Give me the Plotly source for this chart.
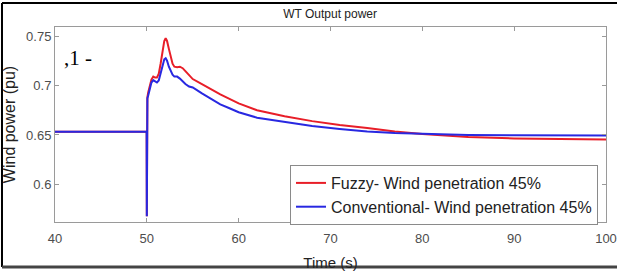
import plotly.graph_objects as go

# Time axis (s)
time_s = [40, 49.98, 50.0, 50.03, 50.06, 50.15, 50.3, 50.5, 50.7, 50.9, 51.1, 51.3,
          51.5, 51.7, 51.9, 52.05, 52.2, 52.4, 52.6, 52.8, 53.0, 53.3, 53.6, 53.9,
          54.2, 54.6, 55, 56, 57, 58, 59, 60, 62, 65, 68, 71, 74, 77, 80, 85, 90, 95, 100]

fuzzy_power = [0.6533, 0.6533, 0.568, 0.686, 0.688, 0.693, 0.700, 0.706, 0.709, 0.708,
               0.708, 0.712, 0.722, 0.734, 0.745, 0.7477, 0.745, 0.737, 0.728, 0.722,
               0.719, 0.7185, 0.719, 0.7175, 0.7145, 0.710, 0.7065, 0.7015, 0.696,
               0.691, 0.6865, 0.682, 0.675, 0.669, 0.664, 0.660, 0.657, 0.6535, 0.651,
               0.648, 0.6465, 0.646, 0.6455]

conv_power = [0.6533, 0.6533, 0.568, 0.686, 0.687, 0.690, 0.697, 0.703, 0.7055, 0.704,
              0.703, 0.705, 0.712, 0.720, 0.7265, 0.7275, 0.725, 0.719, 0.714, 0.711,
              0.709, 0.709, 0.707, 0.704, 0.7015, 0.699, 0.698, 0.692, 0.6865, 0.681,
              0.677, 0.673, 0.6675, 0.663, 0.659, 0.656, 0.6535, 0.652, 0.651, 0.650,
              0.6497, 0.6495, 0.6495]

x_ticks = [40, 50, 60, 70, 80, 90, 100]
y_ticks = [0.6, 0.65, 0.7, 0.75]
y_tick_labels = ["0.6", "0.65", "0.7", "0.75"]

FONT = "Liberation Sans, Arial, sans-serif"

fig = go.Figure()
fig.add_trace(go.Scatter(x=time_s, y=fuzzy_power, mode="lines",
                         name="Fuzzy- Wind penetration 45%",
                         line=dict(color="rgb(232,30,40)", width=2)))
fig.add_trace(go.Scatter(x=time_s, y=conv_power, mode="lines",
                         name="Conventional- Wind penetration 45%",
                         line=dict(color="rgb(40,40,225)", width=2)))

axis_common = dict(showline=True, linecolor="#9a9a9a", linewidth=1, mirror="ticks",
                   ticks="inside", ticklen=4, tickcolor="#9a9a9a", showgrid=False,
                   zeroline=False, automargin=False,
                   tickfont=dict(family=FONT, size=13, color="#4d4d4d"))

fig.update_xaxes(range=[40, 100], tickvals=x_ticks, ticklabelstandoff=4,
                 title=dict(text="Time (s)", font=dict(family=FONT, size=15, color="#222"),
                            standoff=12),
                 **axis_common)
fig.update_yaxes(range=[0.5621, 0.7591], tickvals=y_ticks, ticktext=y_tick_labels,
                 title=dict(text="Wind power (pu)", font=dict(family=FONT, size=16, color="#222"),
                            standoff=6),
                 **axis_common)

fig.update_layout(
    width=617, height=272,
    margin=dict(l=55, r=11, t=27, b=50, autoexpand=False),
    paper_bgcolor="white", plot_bgcolor="white",
    title=dict(text="WT Output power", x=0.535, xanchor="center", y=0.95, yanchor="middle",
               font=dict(family=FONT, size=12, color="#222")),
    legend=dict(x=0.4265, y=0.2923, xanchor="left", yanchor="top",
                bgcolor="white", bordercolor="#8a8a8a", borderwidth=1,
                font=dict(family=FONT, size=16, color="#222"),
                tracegroupgap=0, itemwidth=30),
    showlegend=True,
)

# figure frame (top, left, bottom black border lines)
frame = dict(type="line", xref="paper", yref="paper", line=dict(color="black", width=2))
fig.add_shape(x0=-0.0962, x1=1.03, y0=1.1231, y1=1.1231, **frame)
fig.add_shape(x0=-0.0962, x1=-0.0962, y0=-0.2308, y1=1.1231, **frame)
fig.add_shape(x0=-0.0962, x1=1.03, y0=-0.2308, y1=-0.2308,
              type="line", xref="paper", yref="paper", line=dict(color="#444", width=3))

fig.add_annotation(text=",1 -", xref="paper", yref="paper", x=0.0127, y=0.841,
                   xanchor="left", yanchor="middle", showarrow=False,
                   font=dict(family="Liberation Serif, Times New Roman, serif", size=21, color="black"))

fig.write_html("out.html", config={"displayModeBar": False},
               post_script="document.body.style.margin='0';document.body.style.overflow='hidden';")
